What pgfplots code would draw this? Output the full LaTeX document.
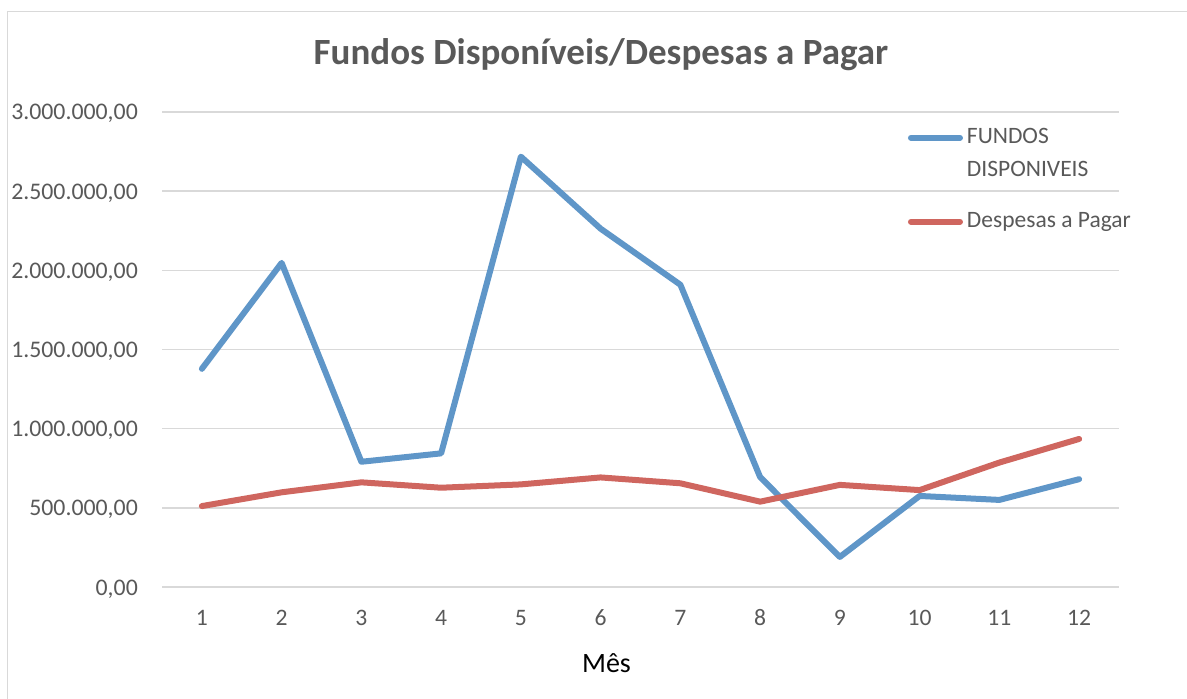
\documentclass[border=0pt]{standalone}
\usepackage{fontspec}
\setmainfont{Carlito}
\usepackage{pgfplots}
\pgfplotsset{compat=1.18}
\definecolor{tickgray}{HTML}{595959}
\definecolor{gridgray}{HTML}{D9D9D9}
\definecolor{serieblue}{HTML}{5F96C8}
\definecolor{seriered}{HTML}{CF665F}
\begin{document}
\begin{tikzpicture}
\useasboundingbox (0,0) rectangle (1187bp,699bp);
\draw[color=gridgray, line width=1.5bp] (7.5bp,0) -- (7.5bp,687.5bp) -- (1187bp,687.5bp);
\begin{axis}[
  at={(162bp,112bp)}, anchor=south west,
  scale only axis, width=957bp, height=475bp,
  xmin=0.5, xmax=12.5, ymin=0, ymax=3000000,
  xtick={1,...,12},
  ytick={0,500000,1000000,1500000,2000000,2500000,3000000},
  yticklabels={{0,00},{500.000,00},{1.000.000,00},{1.500.000,00},{2.000.000,00},{2.500.000,00},{3.000.000,00}},
  scaled y ticks=false,
  /pgf/number format/assume math mode=true,
  axis line style={draw=none},
  major tick length=0pt,
  tick style={draw=none},
  ymajorgrids, xmajorgrids=false,
  grid style={color=gridgray, line width=1.5bp},
  xticklabel style={anchor=base, yshift=-38bp, inner sep=0pt, font=\fontsize{23.6bp}{28bp}\selectfont, text=tickgray},
  yticklabel style={anchor=base east, xshift=-24bp, yshift=-8bp, inner sep=0pt, font=\fontsize{23.8bp}{28bp}\selectfont, text=tickgray},
  title={Fundos Disponíveis/Despesas a Pagar},
  title style={at={(axis description cs:0.4587,1.0884)}, anchor=base, inner sep=0pt, font=\fontsize{37bp}{44bp}\selectfont\bfseries, text=tickgray},
  xlabel={Mês},
  xlabel style={at={(axis description cs:0.4645,-0.1804)}, anchor=base, inner sep=0pt, font=\fontsize{28bp}{33bp}\selectfont, text=black},
  legend style={at={(axis description cs:0.7795,0.9794)}, anchor=north west, draw=none, fill=none, inner sep=0pt, outer sep=0pt, row sep=61bp, column sep=4bp, nodes={inner sep=0pt, font=\fontsize{23.5bp}{30.7bp}\selectfont, text=tickgray}, cells={anchor=base west}},
  legend image code/.code={\draw[#1, line cap=round] (3bp,5.5bp) -- (52bp,5.5bp);},
]
\addplot[color=serieblue, line width=6bp, line join=round, line cap=round] coordinates {
  (1,1378000) (2,2047000) (3,791000) (4,844000) (5,2718000) (6,2263000)
  (7,1909000) (8,694000) (9,190000) (10,575000) (11,550000) (12,681000)
};
\addlegendentry{\begin{tabular}[t]{@{}l@{}}FUNDOS\\[3bp]DISPONIVEIS\end{tabular}}
\addplot[color=seriered, line width=6bp, line join=round, line cap=round] coordinates {
  (1,511000) (2,598000) (3,661000) (4,627000) (5,648000) (6,692000)
  (7,655000) (8,539000) (9,645000) (10,612000) (11,786000) (12,935000)
};
\addlegendentry{\begin{tabular}[t]{@{}l@{}}Despesas a Pagar\end{tabular}}
\end{axis}
\end{tikzpicture}
\end{document}
